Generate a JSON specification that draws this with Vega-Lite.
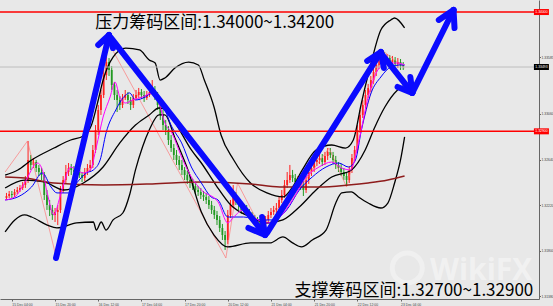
{
"$schema": "https://vega.github.io/schema/vega-lite/v6.json",
"width": 539, "height": 299,
"autosize": {"type": "none"},
"padding": {"left": 0, "top": 0, "right": 14, "bottom": 7},
"background": "#e8e8e8",
"config": {"view": {"stroke": null}, "axis": {"grid": false}},
"datasets": {
"candles": [
{"t":-2,"o":1.32285,"h":1.32332,"l":1.32267,"c":1.32304},
{"t":-1,"o":1.32304,"h":1.32350,"l":1.32285,"c":1.32322},
{"t":0,"o":1.32322,"h":1.32350,"l":1.32285,"c":1.32313},
{"t":1,"o":1.32313,"h":1.32368,"l":1.32295,"c":1.32341},
{"t":2,"o":1.32341,"h":1.32387,"l":1.32322,"c":1.32359},
{"t":3,"o":1.32359,"h":1.32405,"l":1.32341,"c":1.32378},
{"t":4,"o":1.32378,"h":1.32433,"l":1.32359,"c":1.32405},
{"t":5,"o":1.32405,"h":1.32488,"l":1.32378,"c":1.32451},
{"t":6,"o":1.32451,"h":1.32811,"l":1.32424,"c":1.32636},
{"t":7,"o":1.32636,"h":1.32682,"l":1.32544,"c":1.32590},
{"t":8,"o":1.32590,"h":1.32654,"l":1.32562,"c":1.32617},
{"t":9,"o":1.32617,"h":1.32636,"l":1.32525,"c":1.32562},
{"t":10,"o":1.32562,"h":1.32590,"l":1.32488,"c":1.32525},
{"t":11,"o":1.32525,"h":1.32562,"l":1.32451,"c":1.32497},
{"t":12,"o":1.32497,"h":1.32525,"l":1.32267,"c":1.32313},
{"t":13,"o":1.32313,"h":1.32359,"l":1.32175,"c":1.32221},
{"t":14,"o":1.32221,"h":1.32267,"l":1.32119,"c":1.32175},
{"t":15,"o":1.32175,"h":1.32221,"l":1.32083,"c":1.32129},
{"t":16,"o":1.32129,"h":1.32193,"l":1.32064,"c":1.32156},
{"t":17,"o":1.32156,"h":1.32221,"l":1.32036,"c":1.32175},
{"t":18,"o":1.32175,"h":1.32396,"l":1.32147,"c":1.32359},
{"t":19,"o":1.32359,"h":1.32488,"l":1.32332,"c":1.32451},
{"t":20,"o":1.32451,"h":1.32590,"l":1.32424,"c":1.32525},
{"t":21,"o":1.32525,"h":1.32608,"l":1.32488,"c":1.32562},
{"t":22,"o":1.32562,"h":1.32599,"l":1.32497,"c":1.32544},
{"t":23,"o":1.32544,"h":1.32580,"l":1.32488,"c":1.32525},
{"t":24,"o":1.32525,"h":1.32599,"l":1.32497,"c":1.32562},
{"t":25,"o":1.32562,"h":1.32590,"l":1.32470,"c":1.32497},
{"t":26,"o":1.32497,"h":1.32525,"l":1.32433,"c":1.32470},
{"t":27,"o":1.32470,"h":1.32562,"l":1.32442,"c":1.32525},
{"t":28,"o":1.32525,"h":1.32599,"l":1.32497,"c":1.32562},
{"t":29,"o":1.32562,"h":1.32636,"l":1.32525,"c":1.32590},
{"t":30,"o":1.32590,"h":1.32774,"l":1.32562,"c":1.32728},
{"t":31,"o":1.32728,"h":1.32958,"l":1.32700,"c":1.32912},
{"t":32,"o":1.32912,"h":1.33143,"l":1.32866,"c":1.33097},
{"t":33,"o":1.33097,"h":1.33281,"l":1.33051,"c":1.33235},
{"t":34,"o":1.33235,"h":1.33484,"l":1.33207,"c":1.33419},
{"t":35,"o":1.33419,"h":1.33585,"l":1.33373,"c":1.33539},
{"t":36,"o":1.33539,"h":1.33576,"l":1.33410,"c":1.33466},
{"t":37,"o":1.33466,"h":1.33502,"l":1.33281,"c":1.33327},
{"t":38,"o":1.33327,"h":1.33355,"l":1.33189,"c":1.33235},
{"t":39,"o":1.33235,"h":1.33281,"l":1.33078,"c":1.33189},
{"t":40,"o":1.33189,"h":1.33226,"l":1.33097,"c":1.33143},
{"t":41,"o":1.33143,"h":1.33244,"l":1.33115,"c":1.33207},
{"t":42,"o":1.33207,"h":1.33281,"l":1.33189,"c":1.33235},
{"t":43,"o":1.33235,"h":1.33263,"l":1.33152,"c":1.33189},
{"t":44,"o":1.33189,"h":1.33217,"l":1.33097,"c":1.33143},
{"t":45,"o":1.33143,"h":1.33244,"l":1.33115,"c":1.33207},
{"t":46,"o":1.33207,"h":1.33281,"l":1.33189,"c":1.33235},
{"t":47,"o":1.33235,"h":1.33300,"l":1.33207,"c":1.33263},
{"t":48,"o":1.33263,"h":1.33290,"l":1.33198,"c":1.33235},
{"t":49,"o":1.33235,"h":1.33272,"l":1.33171,"c":1.33207},
{"t":50,"o":1.33207,"h":1.33272,"l":1.33189,"c":1.33235},
{"t":51,"o":1.33235,"h":1.33300,"l":1.33217,"c":1.33263},
{"t":52,"o":1.33263,"h":1.33373,"l":1.33235,"c":1.33281},
{"t":53,"o":1.33281,"h":1.33318,"l":1.33189,"c":1.33235},
{"t":54,"o":1.33235,"h":1.33263,"l":1.33097,"c":1.33143},
{"t":55,"o":1.33143,"h":1.33189,"l":1.33005,"c":1.33051},
{"t":56,"o":1.33051,"h":1.33097,"l":1.32912,"c":1.32958},
{"t":57,"o":1.32958,"h":1.33005,"l":1.32866,"c":1.32912},
{"t":58,"o":1.32912,"h":1.32949,"l":1.32774,"c":1.32820},
{"t":59,"o":1.32820,"h":1.32866,"l":1.32710,"c":1.32746},
{"t":60,"o":1.32746,"h":1.32783,"l":1.32636,"c":1.32682},
{"t":61,"o":1.32682,"h":1.32728,"l":1.32590,"c":1.32636},
{"t":62,"o":1.32636,"h":1.32673,"l":1.32544,"c":1.32590},
{"t":63,"o":1.32590,"h":1.32636,"l":1.32497,"c":1.32544},
{"t":64,"o":1.32544,"h":1.32571,"l":1.32451,"c":1.32497},
{"t":65,"o":1.32497,"h":1.32534,"l":1.32415,"c":1.32451},
{"t":66,"o":1.32451,"h":1.32488,"l":1.32378,"c":1.32424},
{"t":67,"o":1.32424,"h":1.32461,"l":1.32359,"c":1.32396},
{"t":68,"o":1.32396,"h":1.32433,"l":1.32322,"c":1.32359},
{"t":69,"o":1.32359,"h":1.32396,"l":1.32304,"c":1.32341},
{"t":70,"o":1.32341,"h":1.32378,"l":1.32276,"c":1.32313},
{"t":71,"o":1.32313,"h":1.32350,"l":1.32258,"c":1.32295},
{"t":72,"o":1.32295,"h":1.32332,"l":1.32230,"c":1.32267},
{"t":73,"o":1.32267,"h":1.32304,"l":1.32184,"c":1.32221},
{"t":74,"o":1.32221,"h":1.32258,"l":1.32138,"c":1.32175},
{"t":75,"o":1.32175,"h":1.32212,"l":1.32092,"c":1.32129},
{"t":76,"o":1.32129,"h":1.32166,"l":1.32036,"c":1.32083},
{"t":77,"o":1.32083,"h":1.32119,"l":1.31972,"c":1.32009},
{"t":78,"o":1.32009,"h":1.32046,"l":1.31898,"c":1.31944},
{"t":79,"o":1.31944,"h":1.31981,"l":1.31806,"c":1.31898},
{"t":80,"o":1.31898,"h":1.32175,"l":1.31861,"c":1.32129},
{"t":81,"o":1.32129,"h":1.32267,"l":1.32101,"c":1.32221},
{"t":82,"o":1.32221,"h":1.32405,"l":1.32193,"c":1.32313},
{"t":83,"o":1.32313,"h":1.32341,"l":1.32221,"c":1.32267},
{"t":84,"o":1.32267,"h":1.32295,"l":1.32175,"c":1.32221},
{"t":85,"o":1.32221,"h":1.32249,"l":1.32138,"c":1.32175},
{"t":86,"o":1.32175,"h":1.32230,"l":1.32147,"c":1.32193},
{"t":87,"o":1.32193,"h":1.32221,"l":1.32119,"c":1.32156},
{"t":88,"o":1.32156,"h":1.32184,"l":1.32092,"c":1.32129},
{"t":89,"o":1.32129,"h":1.32156,"l":1.32064,"c":1.32101},
{"t":90,"o":1.32101,"h":1.32129,"l":1.32046,"c":1.32083},
{"t":91,"o":1.32083,"h":1.32110,"l":1.32027,"c":1.32064},
{"t":92,"o":1.32064,"h":1.32092,"l":1.31990,"c":1.32036},
{"t":93,"o":1.32036,"h":1.32092,"l":1.32009,"c":1.32064},
{"t":94,"o":1.32064,"h":1.32119,"l":1.32036,"c":1.32083},
{"t":95,"o":1.32083,"h":1.32166,"l":1.32055,"c":1.32129},
{"t":96,"o":1.32129,"h":1.32193,"l":1.32101,"c":1.32156},
{"t":97,"o":1.32156,"h":1.32212,"l":1.32129,"c":1.32175},
{"t":98,"o":1.32175,"h":1.32239,"l":1.32147,"c":1.32193},
{"t":99,"o":1.32193,"h":1.32304,"l":1.32166,"c":1.32267},
{"t":100,"o":1.32267,"h":1.32359,"l":1.32239,"c":1.32313},
{"t":101,"o":1.32313,"h":1.32451,"l":1.32285,"c":1.32405},
{"t":102,"o":1.32405,"h":1.32525,"l":1.32378,"c":1.32451},
{"t":103,"o":1.32451,"h":1.32590,"l":1.32424,"c":1.32497},
{"t":104,"o":1.32497,"h":1.32544,"l":1.32433,"c":1.32470},
{"t":105,"o":1.32470,"h":1.32507,"l":1.32396,"c":1.32433},
{"t":106,"o":1.32433,"h":1.32488,"l":1.32405,"c":1.32451},
{"t":107,"o":1.32451,"h":1.32479,"l":1.32359,"c":1.32405},
{"t":108,"o":1.32405,"h":1.32442,"l":1.32304,"c":1.32359},
{"t":109,"o":1.32359,"h":1.32488,"l":1.32332,"c":1.32451},
{"t":110,"o":1.32451,"h":1.32562,"l":1.32415,"c":1.32525},
{"t":111,"o":1.32525,"h":1.32599,"l":1.32488,"c":1.32562},
{"t":112,"o":1.32562,"h":1.32654,"l":1.32525,"c":1.32617},
{"t":113,"o":1.32617,"h":1.32682,"l":1.32580,"c":1.32636},
{"t":114,"o":1.32636,"h":1.32700,"l":1.32599,"c":1.32654},
{"t":115,"o":1.32654,"h":1.32691,"l":1.32580,"c":1.32617},
{"t":116,"o":1.32617,"h":1.32710,"l":1.32590,"c":1.32673},
{"t":117,"o":1.32673,"h":1.32746,"l":1.32636,"c":1.32710},
{"t":118,"o":1.32710,"h":1.32746,"l":1.32654,"c":1.32682},
{"t":119,"o":1.32682,"h":1.32710,"l":1.32599,"c":1.32636},
{"t":120,"o":1.32636,"h":1.32673,"l":1.32553,"c":1.32590},
{"t":121,"o":1.32590,"h":1.32617,"l":1.32525,"c":1.32562},
{"t":122,"o":1.32562,"h":1.32599,"l":1.32488,"c":1.32525},
{"t":123,"o":1.32525,"h":1.32562,"l":1.32451,"c":1.32488},
{"t":124,"o":1.32488,"h":1.32525,"l":1.32396,"c":1.32451},
{"t":125,"o":1.32451,"h":1.32580,"l":1.32424,"c":1.32544},
{"t":126,"o":1.32544,"h":1.32691,"l":1.32516,"c":1.32654},
{"t":127,"o":1.32654,"h":1.32765,"l":1.32617,"c":1.32728},
{"t":128,"o":1.32728,"h":1.32958,"l":1.32700,"c":1.32912},
{"t":129,"o":1.32912,"h":1.33097,"l":1.32885,"c":1.33051},
{"t":130,"o":1.33051,"h":1.33189,"l":1.33023,"c":1.33143},
{"t":131,"o":1.33143,"h":1.33281,"l":1.33115,"c":1.33235},
{"t":132,"o":1.33235,"h":1.33337,"l":1.33207,"c":1.33300},
{"t":133,"o":1.33300,"h":1.33410,"l":1.33263,"c":1.33373},
{"t":134,"o":1.33373,"h":1.33484,"l":1.33337,"c":1.33447},
{"t":135,"o":1.33447,"h":1.33558,"l":1.33410,"c":1.33512},
{"t":136,"o":1.33512,"h":1.33622,"l":1.33475,"c":1.33576},
{"t":137,"o":1.33576,"h":1.33650,"l":1.33539,"c":1.33604},
{"t":138,"o":1.33604,"h":1.33632,"l":1.33502,"c":1.33558},
{"t":139,"o":1.33558,"h":1.33613,"l":1.33521,"c":1.33576},
{"t":140,"o":1.33576,"h":1.33604,"l":1.33484,"c":1.33539},
{"t":141,"o":1.33539,"h":1.33595,"l":1.33502,"c":1.33558},
{"t":142,"o":1.33558,"h":1.33585,"l":1.33466,"c":1.33521},
{"t":143,"o":1.33521,"h":1.33576,"l":1.33484,"c":1.33539},
{"t":144,"o":1.33539,"h":1.33567,"l":1.33466,"c":1.33512},
{"t":145,"o":1.33512,"h":1.33539,"l":1.33466,"c":1.33493}
],
"lines": [
{"s":"OU","t":-2.5,"p":1.32497},{"s":"OU","t":2.2,"p":1.32544},{"s":"OU","t":7.3,"p":1.32636},{"s":"OU","t":15.6,"p":1.32746},{"s":"OU","t":21.8,"p":1.32820},{"s":"OU","t":26.5,"p":1.32857},{"s":"OU","t":29.5,"p":1.32958},{"s":"OU","t":32,"p":1.33189},{"s":"OU","t":33.8,"p":1.33373},{"s":"OU","t":37.5,"p":1.33585},{"s":"OU","t":42.2,"p":1.33668},{"s":"OU","t":47.3,"p":1.33650},{"s":"OU","t":50.9,"p":1.33558},{"s":"OU","t":53.1,"p":1.33530},{"s":"OU","t":54.9,"p":1.33373},{"s":"OU","t":56.7,"p":1.33392},{"s":"OU","t":60.4,"p":1.33484},{"s":"OU","t":65.5,"p":1.33539},{"s":"OU","t":69.1,"p":1.33512},{"s":"OU","t":71.3,"p":1.33373},{"s":"OU","t":74.9,"p":1.33124},{"s":"OU","t":77.5,"p":1.32866},{"s":"OU","t":82.2,"p":1.32636},{"s":"OU","t":88.4,"p":1.32424},{"s":"OU","t":94.5,"p":1.32332},{"s":"OU","t":100.4,"p":1.32295},{"s":"OU","t":104,"p":1.32387},{"s":"OU","t":107.6,"p":1.32544},{"s":"OU","t":112.7,"p":1.32728},{"s":"OU","t":118.5,"p":1.32774},{"s":"OU","t":123.6,"p":1.32746},{"s":"OU","t":126.5,"p":1.32820},{"s":"OU","t":129.5,"p":1.33161},{"s":"OU","t":133.1,"p":1.33530},{"s":"OU","t":136.7,"p":1.33834},{"s":"OU","t":140.4,"p":1.33927},{"s":"OU","t":141.8,"p":1.33945},{"s":"OU","t":145.5,"p":1.33853},
{"s":"OL","t":-2.5,"p":1.31972},{"s":"OL","t":1.1,"p":1.32083},{"s":"OL","t":4.7,"p":1.32129},{"s":"OL","t":7.3,"p":1.32110},{"s":"OL","t":13.1,"p":1.32036},{"s":"OL","t":16.7,"p":1.32009},{"s":"OL","t":24,"p":1.32055},{"s":"OL","t":30.2,"p":1.32064},{"s":"OL","t":31.3,"p":1.31990},{"s":"OL","t":33.1,"p":1.32064},{"s":"OL","t":34.9,"p":1.31990},{"s":"OL","t":37.5,"p":1.32083},{"s":"OL","t":41.1,"p":1.32147},{"s":"OL","t":43.6,"p":1.32313},{"s":"OL","t":45.8,"p":1.32544},{"s":"OL","t":48.4,"p":1.32756},{"s":"OL","t":50.9,"p":1.32912},{"s":"OL","t":54.5,"p":1.33051},{"s":"OL","t":56.7,"p":1.33051},{"s":"OL","t":60.4,"p":1.32839},{"s":"OL","t":65.5,"p":1.32525},{"s":"OL","t":70.2,"p":1.32156},{"s":"OL","t":74.9,"p":1.31944},{"s":"OL","t":80,"p":1.31834},{"s":"OL","t":88.4,"p":1.31871},{"s":"OL","t":95.6,"p":1.31871},{"s":"OL","t":100.4,"p":1.31926},{"s":"OL","t":104,"p":1.31871},{"s":"OL","t":107.3,"p":1.31834},{"s":"OL","t":111.3,"p":1.31898},{"s":"OL","t":116.4,"p":1.31990},{"s":"OL","t":120,"p":1.32239},{"s":"OL","t":122.2,"p":1.32332},{"s":"OL","t":125.8,"p":1.32341},{"s":"OL","t":128.4,"p":1.32295},{"s":"OL","t":132,"p":1.32239},{"s":"OL","t":136.7,"p":1.32193},{"s":"OL","t":139.3,"p":1.32239},{"s":"OL","t":141.8,"p":1.32424},{"s":"OL","t":144,"p":1.32636},{"s":"OL","t":145.5,"p":1.32848},
{"s":"M","t":-2.5,"p":1.32378},{"s":"M","t":4.7,"p":1.32451},{"s":"M","t":12,"p":1.32433},{"s":"M","t":19.3,"p":1.32359},{"s":"M","t":26.5,"p":1.32424},{"s":"M","t":33.8,"p":1.32571},{"s":"M","t":40,"p":1.32793},{"s":"M","t":45.8,"p":1.32958},{"s":"M","t":50.9,"p":1.33051},{"s":"M","t":54.5,"p":1.33115},{"s":"M","t":57.5,"p":1.33097},{"s":"M","t":61.1,"p":1.32958},{"s":"M","t":66.5,"p":1.32728},{"s":"M","t":70.2,"p":1.32608},{"s":"M","t":75.6,"p":1.32405},{"s":"M","t":81.1,"p":1.32221},{"s":"M","t":88.4,"p":1.32110},{"s":"M","t":94.5,"p":1.32055},{"s":"M","t":100.4,"p":1.32083},{"s":"M","t":106.5,"p":1.32202},{"s":"M","t":112.7,"p":1.32359},{"s":"M","t":118.5,"p":1.32479},{"s":"M","t":125.8,"p":1.32544},{"s":"M","t":130.9,"p":1.32728},{"s":"M","t":134.5,"p":1.32940},{"s":"M","t":138.2,"p":1.33124},{"s":"M","t":142.9,"p":1.33281},{"s":"M","t":145.5,"p":1.33327},
{"s":"DR","t":-2.5,"p":1.32479},{"s":"DR","t":4.7,"p":1.32470},{"s":"DR","t":15.6,"p":1.32424},{"s":"DR","t":33.8,"p":1.32405},{"s":"DR","t":52,"p":1.32415},{"s":"DR","t":70.2,"p":1.32433},{"s":"DR","t":88.4,"p":1.32415},{"s":"DR","t":99.3,"p":1.32387},{"s":"DR","t":113.8,"p":1.32387},{"s":"DR","t":124.7,"p":1.32405},{"s":"DR","t":132,"p":1.32424},{"s":"DR","t":139.3,"p":1.32451},{"s":"DR","t":145.5,"p":1.32488},
{"s":"B","t":-2.5,"p":1.32267},{"s":"B","t":2.2,"p":1.32295},{"s":"B","t":7.3,"p":1.32387},{"s":"B","t":11.3,"p":1.32516},{"s":"B","t":14.5,"p":1.32387},{"s":"B","t":16.7,"p":1.32332},{"s":"B","t":21.1,"p":1.32332},{"s":"B","t":24,"p":1.32424},{"s":"B","t":27.6,"p":1.32516},{"s":"B","t":30.2,"p":1.32544},{"s":"B","t":32.7,"p":1.32636},{"s":"B","t":34.9,"p":1.32885},{"s":"B","t":38.5,"p":1.33097},{"s":"B","t":42.2,"p":1.33235},{"s":"B","t":43.6,"p":1.33254},{"s":"B","t":45.8,"p":1.33189},{"s":"B","t":49.5,"p":1.33217},{"s":"B","t":52,"p":1.33254},{"s":"B","t":55.6,"p":1.33161},{"s":"B","t":59.3,"p":1.32940},{"s":"B","t":62.9,"p":1.32793},{"s":"B","t":66.5,"p":1.32571},{"s":"B","t":70.2,"p":1.32424},{"s":"B","t":73.8,"p":1.32295},{"s":"B","t":76.4,"p":1.32267},{"s":"B","t":80,"p":1.32110},{"s":"B","t":85.8,"p":1.32110},{"s":"B","t":92,"p":1.32083},{"s":"B","t":96.7,"p":1.32083},{"s":"B","t":101.8,"p":1.32175},{"s":"B","t":106.5,"p":1.32359},{"s":"B","t":111.3,"p":1.32479},{"s":"B","t":116.4,"p":1.32571},{"s":"B","t":121.1,"p":1.32608},{"s":"B","t":124.7,"p":1.32571},{"s":"B","t":127.3,"p":1.32636},{"s":"B","t":129.5,"p":1.32912},{"s":"B","t":133.1,"p":1.33254},{"s":"B","t":136.7,"p":1.33401},{"s":"B","t":140.4,"p":1.33493},{"s":"B","t":144,"p":1.33512},{"s":"B","t":145.5,"p":1.33512},
{"s":"MG","t":-2.5,"p":1.32267},{"s":"MG","t":1.1,"p":1.32295},{"s":"MG","t":4.7,"p":1.32424},{"s":"MG","t":9.5,"p":1.32608},{"s":"MG","t":11.3,"p":1.32544},{"s":"MG","t":13.1,"p":1.32332},{"s":"MG","t":15.6,"p":1.32129},{"s":"MG","t":17.5,"p":1.32267},{"s":"MG","t":19.3,"p":1.32424},{"s":"MG","t":21.8,"p":1.32571},{"s":"MG","t":24,"p":1.32544},{"s":"MG","t":26.5,"p":1.32516},{"s":"MG","t":29.1,"p":1.32544},{"s":"MG","t":31.3,"p":1.32756},{"s":"MG","t":33.8,"p":1.33032},{"s":"MG","t":36.4,"p":1.33217},{"s":"MG","t":38.2,"p":1.33355},{"s":"MG","t":40,"p":1.33217},{"s":"MG","t":42.2,"p":1.33161},{"s":"MG","t":44.7,"p":1.33189},{"s":"MG","t":48.4,"p":1.33217},{"s":"MG","t":52,"p":1.33254},{"s":"MG","t":54.5,"p":1.33161},{"s":"MG","t":56.7,"p":1.32977},{"s":"MG","t":59.3,"p":1.32885},{"s":"MG","t":62.9,"p":1.32663},{"s":"MG","t":66.5,"p":1.32479},{"s":"MG","t":70.2,"p":1.32359},{"s":"MG","t":76.4,"p":1.32249},{"s":"MG","t":80,"p":1.32055},{"s":"MG","t":82.2,"p":1.32110},{"s":"MG","t":85.8,"p":1.32175},{"s":"MG","t":89.5,"p":1.32110},{"s":"MG","t":94.5,"p":1.32055},{"s":"MG","t":99.3,"p":1.32110},{"s":"MG","t":104,"p":1.32267},{"s":"MG","t":109.1,"p":1.32479},{"s":"MG","t":113.8,"p":1.32571},{"s":"MG","t":118.5,"p":1.32617},{"s":"MG","t":122.2,"p":1.32562},{"s":"MG","t":125.5,"p":1.32544},{"s":"MG","t":128.4,"p":1.32793},{"s":"MG","t":132,"p":1.33217},{"s":"MG","t":135.6,"p":1.33466},{"s":"MG","t":139.3,"p":1.33530},{"s":"MG","t":142.9,"p":1.33530},{"s":"MG","t":145.5,"p":1.33512},
{"s":"ZZ","t":-2.5,"p":1.32525},{"s":"ZZ","t":5.8,"p":1.32811},{"s":"ZZ","t":16.7,"p":1.31714},{"s":"ZZ","t":35.3,"p":1.33742},{"s":"ZZ","t":79.3,"p":1.31732},{"s":"ZZ","t":83.6,"p":1.32424},{"s":"ZZ","t":93.8,"p":1.31935},{"s":"ZZ","t":117.5,"p":1.32746},{"s":"ZZ","t":124,"p":1.32387},{"s":"ZZ","t":137.1,"p":1.33650},{"s":"ZZ","t":145.5,"p":1.33484}
],
"arrows": [
{"t":16.36,"p":1.31732,"t2":36,"p2":1.33788},
{"t":36,"p":1.33788,"t2":32,"p2":1.33696},
{"t":36,"p":1.33788,"t2":37.45,"p2":1.33668},
{"t":36.73,"p":1.33761,"t2":93.82,"p2":1.31944},
{"t":93.82,"p":1.31944,"t2":92.73,"p2":1.32110},
{"t":93.82,"p":1.31944,"t2":87.64,"p2":1.32009},
{"t":94.55,"p":1.31963,"t2":136.73,"p2":1.33632},
{"t":136.73,"p":1.33632,"t2":131.64,"p2":1.33549},
{"t":136.73,"p":1.33632,"t2":137.82,"p2":1.33484},
{"t":136.73,"p":1.33622,"t2":148.36,"p2":1.33254},
{"t":148.36,"p":1.33254,"t2":147.64,"p2":1.33401},
{"t":148.36,"p":1.33254,"t2":142.91,"p2":1.33309},
{"t":148.36,"p":1.33254,"t2":163.64,"p2":1.34019},
{"t":163.64,"p":1.34019,"t2":158.18,"p2":1.33927},
{"t":163.64,"p":1.34019,"t2":164,"p2":1.33853}
],
"hlines": [
{"p":1.34000,"k":"r"},{"p":1.32900,"k":"r"},{"p":1.33493,"k":"g"}
],
"boxes": [
{"p":1.34000,"f":"r","label":"1.34000"},{"p":1.32900,"f":"r","label":"1.32900"},{"p":1.33493,"f":"k","label":"1.33493"}
],
"texts": [
{"t":30.9,"p":1.33850,"label":"压力筹码区间:1.34000~1.34200"},
{"t":104.7,"p":1.31385,"label":"支撑筹码区间:1.32700~1.32900"}
],
"wm": [
{"t":154.9,"p":1.31529,"label":"WikiFX"}
],
"logo": [
{"t":146.5,"p":1.31640}
]
},
"layer": [
{
"data": {"name": "candles"},
"mark": {"type": "rule", "strokeWidth": 1},
"encoding": {
"x": {"field": "t", "type": "quantitative", "scale": {"domain": [-2.545, 193.45], "nice": false, "zero": false},
"axis": {"title": null, "values": [0,8,16,24,32,40,48,56,64,72,80,88,96,104,112,120,128,136,144],
"labelExpr": "['15 Dec 04:00','15 Dec 12:00','15 Dec 20:00','16 Dec 04:00','16 Dec 12:00','16 Dec 20:00','17 Dec 04:00','17 Dec 12:00','17 Dec 20:00','20 Dec 04:00','20 Dec 12:00','20 Dec 20:00','21 Dec 04:00','21 Dec 12:00','21 Dec 20:00','22 Dec 04:00','22 Dec 12:00','22 Dec 20:00','23 Dec 04:00'][round(datum.value/8)]",
"labelFontSize": 3.4, "labelFont": "Liberation Sans", "labelColor": "#444444", "labelAlign": "left", "labelBaseline": "top", "labelPadding": 1,
"tickSize": 2, "tickColor": "#666666", "domainColor": "#666666", "domainWidth": 1, "labelOverlap": false, "labelFlush": false, "grid": false}},
"y": {"field": "l", "type": "quantitative", "scale": {"domain": [1.31354, 1.34111], "nice": false, "zero": false},
"axis": {"title": null, "orient": "right", "format": ".5f",
"values": [1.3138,1.31485,1.3159,1.31695,1.318,1.31905,1.3201,1.32115,1.3222,1.32325,1.3243,1.32535,1.3264,1.32745,1.3285,1.32955,1.3306,1.33165,1.3327,1.33375,1.33585,1.3369,1.33795,1.339],
"labelFontSize": 3.4, "labelFont": "Liberation Sans", "labelColor": "#444444", "labelPadding": 0.5, "labelBaseline": "middle", "tickSize": 1.5, "tickColor": "#666666", "domainColor": "#666666", "domainWidth": 1, "labelOverlap": false, "labelFlush": false, "grid": false}},
"y2": {"field": "h"},
"color": {"condition": {"test": "datum.c >= datum.o", "value": "#ff2020"}, "value": "#229922"}
}
},
{
"data": {"name": "candles"},
"mark": {"type": "bar", "width": 1.8},
"encoding": {
"x": {"field": "t", "type": "quantitative", "axis": {"title": null}},
"y": {"field": "o", "type": "quantitative", "axis": {"title": null}},
"y2": {"field": "c"},
"color": {"condition": {"test": "datum.c >= datum.o", "value": "#ff2020"}, "value": "#229922"}
}
},
{
"data": {"name": "lines"},
"transform": [{"filter": "datum.s == 'ZZ'"}],
"mark": {"type": "line", "color": "#ff7070", "strokeWidth": 0.8, "opacity": 0.8},
"encoding": {
"x": {"field": "t", "type": "quantitative", "axis": {"title": null}},
"y": {"field": "p", "type": "quantitative", "axis": {"title": null}}
}
},
{
"data": {"name": "lines"},
"transform": [{"filter": "datum.s == 'OU' || datum.s == 'OL' || datum.s == 'M'"}],
"mark": {"type": "line", "color": "#000000", "strokeWidth": 1.3, "interpolate": "monotone"},
"encoding": {
"x": {"field": "t", "type": "quantitative", "axis": {"title": null}},
"y": {"field": "p", "type": "quantitative", "axis": {"title": null}},
"detail": {"field": "s"}
}
},
{
"data": {"name": "lines"},
"transform": [{"filter": "datum.s == 'DR'"}],
"mark": {"type": "line", "color": "#8e1c1c", "strokeWidth": 1.5, "interpolate": "monotone"},
"encoding": {
"x": {"field": "t", "type": "quantitative", "axis": {"title": null}},
"y": {"field": "p", "type": "quantitative", "axis": {"title": null}}
}
},
{
"data": {"name": "lines"},
"transform": [{"filter": "datum.s == 'B'"}],
"mark": {"type": "line", "color": "#0000ff", "strokeWidth": 1, "interpolate": "monotone"},
"encoding": {
"x": {"field": "t", "type": "quantitative", "axis": {"title": null}},
"y": {"field": "p", "type": "quantitative", "axis": {"title": null}}
}
},
{
"data": {"name": "lines"},
"transform": [{"filter": "datum.s == 'MG'"}],
"mark": {"type": "line", "color": "#ff00ff", "strokeWidth": 1, "interpolate": "monotone"},
"encoding": {
"x": {"field": "t", "type": "quantitative", "axis": {"title": null}},
"y": {"field": "p", "type": "quantitative", "axis": {"title": null}}
}
},
{
"data": {"name": "hlines"},
"mark": {"type": "rule"},
"encoding": {
"y": {"field": "p", "type": "quantitative", "axis": {"title": null}},
"color": {"condition": {"test": "datum.k == 'r'", "value": "#ff0000"}, "value": "#bdbdbd"},
"strokeWidth": {"condition": {"test": "datum.k == 'r'", "value": 1.5}, "value": 1}
}
},
{
"data": {"name": "logo"},
"mark": {"type": "point", "shape": "circle", "size": 900, "filled": false, "strokeWidth": 5, "color": "#f6f6f6", "opacity": 0.6},
"encoding": {
"x": {"field": "t", "type": "quantitative", "axis": {"title": null}},
"y": {"field": "p", "type": "quantitative", "axis": {"title": null}}
}
},
{
"data": {"name": "wm"},
"mark": {"type": "text", "font": "Open Sans", "fontWeight": "bold", "fontSize": 30, "align": "left", "baseline": "alphabetic", "color": "#f6f6f6", "opacity": 0.7},
"encoding": {
"x": {"field": "t", "type": "quantitative", "axis": {"title": null}},
"y": {"field": "p", "type": "quantitative", "axis": {"title": null}},
"text": {"field": "label"}
}
},
{
"data": {"name": "arrows"},
"mark": {"type": "rule", "color": "#0a0aff", "strokeWidth": 6, "strokeCap": "round"},
"encoding": {
"x": {"field": "t", "type": "quantitative", "axis": {"title": null}},
"y": {"field": "p", "type": "quantitative", "axis": {"title": null}},
"x2": {"field": "t2"},
"y2": {"field": "p2"}
}
},
{
"data": {"name": "boxes"},
"mark": {"type": "point", "shape": "M-1,-0.4H1V0.4H-1Z", "size": 225, "filled": true, "opacity": 1, "strokeWidth": 0},
"encoding": {
"x": {"datum": 196.2, "type": "quantitative", "axis": {"title": null}},
"y": {"field": "p", "type": "quantitative", "axis": {"title": null}},
"color": {"condition": {"test": "datum.f == 'r'", "value": "#ff0000"}, "value": "#000000"}
}
},
{
"data": {"name": "boxes"},
"mark": {"type": "text", "fontSize": 3.4, "font": "Liberation Sans", "color": "#ffffff", "align": "center", "baseline": "middle"},
"encoding": {
"x": {"datum": 196.2, "type": "quantitative", "axis": {"title": null}},
"y": {"field": "p", "type": "quantitative", "axis": {"title": null}},
"text": {"field": "label"}
}
},
{
"data": {"name": "texts"},
"mark": {"type": "text", "font": "Noto Sans CJK SC", "fontSize": 17, "align": "left", "baseline": "alphabetic", "color": "#000000"},
"encoding": {
"x": {"field": "t", "type": "quantitative", "axis": {"title": null}},
"y": {"field": "p", "type": "quantitative", "axis": {"title": null}},
"text": {"field": "label"}
}
}
]
}
